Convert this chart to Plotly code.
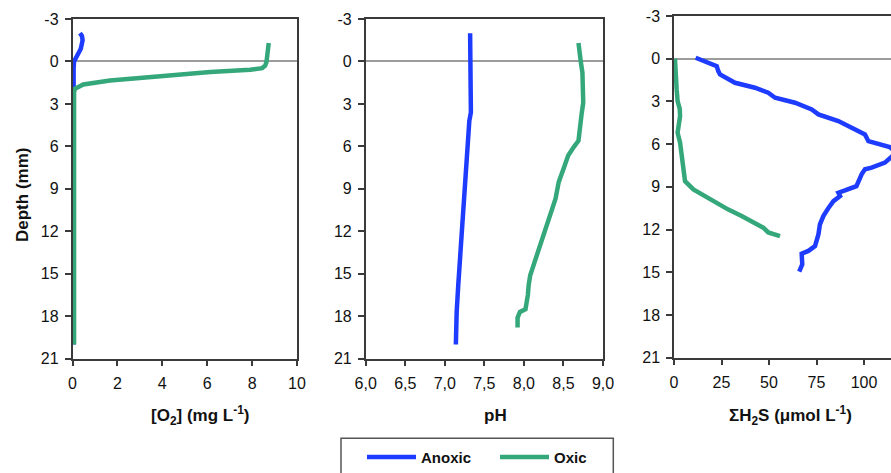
import plotly.graph_objects as go

# ---------------- data ----------------
o2_anoxic_depth = [-2.0, -1.8, -1.5, -1.2, -0.9, -0.6, -0.3, 0.0, 0.5, 1.0, 1.5, 2.0, 4, 6, 8, 10, 12, 14, 16, 18, 20]
o2_anoxic_val = [0.33, 0.42, 0.45, 0.43, 0.37, 0.27, 0.16, 0.07, 0.05, 0.05, 0.05, 0.05, 0.05, 0.05, 0.05, 0.05, 0.05, 0.05, 0.05, 0.05, 0.05]

o2_oxic_depth = [-1.3, -1.0, -0.66, -0.3, 0.05, 0.3, 0.47, 0.59, 0.75, 1.04, 1.34, 1.63, 1.93, 2.17, 3, 5, 8, 11, 14, 17, 20]
o2_oxic_val = [8.74, 8.72, 8.70, 8.67, 8.64, 8.58, 8.45, 7.92, 6.14, 3.91, 1.67, 0.48, 0.11, 0.07, 0.07, 0.07, 0.07, 0.07, 0.07, 0.07, 0.07]

ph_anoxic_depth = [-2.0, -1.0, 0.0, 1.0, 2.0, 3.0, 3.6, 4.2, 5.0, 6.0, 7.35, 8.5, 9.7, 11.1, 12.5, 14.2, 15.8, 17.7, 18.9, 20.0]
ph_anoxic_val = [7.32, 7.32, 7.33, 7.33, 7.33, 7.33, 7.33, 7.31, 7.30, 7.29, 7.27, 7.25, 7.24, 7.23, 7.21, 7.19, 7.17, 7.15, 7.14, 7.14]

ph_oxic_depth = [-1.3, -0.66, 0.05, 0.8, 1.7, 2.9, 3.7, 4.5, 5.6, 6.05, 6.64, 7.59, 8.53, 9.7, 10.9, 11.8, 13.0, 14.2, 15.1, 15.8, 16.5, 17.5, 17.7, 18.1, 18.8]
ph_oxic_val = [8.69, 8.71, 8.72, 8.74, 8.75, 8.75, 8.73, 8.71, 8.69, 8.63, 8.56, 8.50, 8.44, 8.40, 8.33, 8.28, 8.21, 8.14, 8.08, 8.06, 8.05, 8.02, 7.95, 7.92, 7.92]

h2s_anoxic_depth = [-0.07, 0.28, 0.52, 0.87, 1.1, 1.69, 2.04, 2.39, 2.74, 3.09, 3.56, 3.91, 4.38, 4.85, 5.32, 5.79, 6.2, 6.6, 7.0, 7.3, 7.65, 7.77, 8.1, 8.6, 8.95, 9.25, 9.41, 9.65, 10.0, 10.5, 11.05, 11.64, 12.34, 13.16, 13.5, 13.7, 14.45, 14.96]
h2s_anoxic_val = [11.4, 18.1, 22.5, 23.3, 24.2, 32.1, 42.6, 49.6, 53.2, 63.7, 72.5, 76.0, 86.5, 93.5, 100.5, 102.3, 113.5, 117.0, 114.0, 111.0, 104.0, 100.5, 98.8, 97.0, 96.0, 90.0, 86.5, 87.4, 83.9, 81.2, 78.6, 76.8, 76.0, 74.2, 70.7, 67.2, 67.5, 65.9]

h2s_oxic_depth = [0.0, 0.5, 1.22, 2.16, 2.98, 3.5, 4.03, 4.6, 5.2, 5.9, 6.84, 7.77, 8.12, 8.6, 9.18, 9.65, 10.1, 10.6, 11.05, 11.5, 11.87, 12.2, 12.46]
h2s_oxic_val = [0.5, 0.6, 0.9, 1.4, 1.9, 3.0, 3.2, 2.4, 1.9, 3.2, 4.0, 4.9, 4.9, 5.8, 10.2, 16.3, 21.6, 28.6, 35.6, 42.6, 47.0, 49.6, 55.8]

depth_ticks = [-3, 0, 3, 6, 9, 12, 15, 18, 21]
depth_tick_text = ["-3", "0", "3", "6", "9", "12", "15", "18", "21"]
series_names = ["Anoxic", "Oxic"]

# ---------------- style ----------------
W, H = 891, 473
BLUE = "#1e3cff"
GREEN = "#34a87a"
AX = "#3a3a3a"
FONT = "Liberation Sans, Arial, sans-serif"


def px(x):
    return x / W


def py(y):
    return 1 - y / H


fig = go.Figure()

panels = [
    (o2_anoxic_val, o2_anoxic_depth, o2_oxic_val, o2_oxic_depth),
    (ph_anoxic_val, ph_anoxic_depth, ph_oxic_val, ph_oxic_depth),
    (h2s_anoxic_val, h2s_anoxic_depth, h2s_oxic_val, h2s_oxic_depth),
]
for i, (ax_v, ax_d, ox_v, ox_d) in enumerate(panels):
    suffix = "" if i == 0 else str(i + 1)
    fig.add_trace(go.Scatter(x=ax_v, y=ax_d, mode="lines", name=series_names[0],
                             line=dict(color=BLUE, width=4.5), showlegend=(i == 0),
                             xaxis="x" + suffix, yaxis="y" + suffix))
    fig.add_trace(go.Scatter(x=ox_v, y=ox_d, mode="lines", name=series_names[1],
                             line=dict(color=GREEN, width=4.5), showlegend=(i == 0),
                             xaxis="x" + suffix, yaxis="y" + suffix))

common_x = dict(showgrid=False, zeroline=False, showline=True, linecolor=AX, linewidth=1.5,
                mirror=True, ticks="outside", ticklen=6, tickcolor=AX, tickwidth=1.5,
                ticklabelstandoff=3, automargin=False,
                tickfont=dict(family=FONT, size=16, color="#111"))
common_y = dict(showgrid=False, zeroline=True, zerolinecolor="#9c9c9c", zerolinewidth=2,
                showline=True, linecolor=AX, linewidth=1.5, ticks="outside", ticklen=6,
                tickcolor=AX, tickwidth=1.5, range=[21, -3], tickmode="array",
                tickvals=depth_ticks, ticktext=depth_tick_text,
                ticklabelstandoff=3, automargin=False,
                tickfont=dict(family=FONT, size=16, color="#111"))

yd12 = [py(358.7), py(19)]
yd3 = [py(357.7), py(16)]

fig.update_layout(
    width=W, height=H,
    margin=dict(l=0, r=0, t=0, b=0, autoexpand=False),
    paper_bgcolor="white", plot_bgcolor="white",
    separators=",.",
    xaxis=dict(common_x, domain=[px(72.5), px(297)], range=[0, 10], dtick=2, tick0=0, anchor="y"),
    yaxis=dict(common_y, domain=yd12, anchor="x", mirror=True),
    xaxis2=dict(common_x, domain=[px(365.7), px(603)], range=[6, 9], dtick=0.5, tick0=6,
                tickformat=".1f", anchor="y2"),
    yaxis2=dict(common_y, domain=yd12, anchor="x2", mirror=True),
    xaxis3=dict(common_x, domain=[px(674), 1.0], range=[0, 114.2], dtick=25, tick0=0, anchor="y3"),
    yaxis3=dict(common_y, domain=yd3, anchor="x3", mirror=False),
    showlegend=True,
    legend=dict(orientation="h", x=px(362), y=py(457.3), xanchor="left", yanchor="middle",
                borderwidth=0, bgcolor="rgba(0,0,0,0)",
                font=dict(family=FONT, size=15, color="#111", weight="bold"),
                itemwidth=49, entrywidth=69, entrywidthmode="pixels"),
)

# legend frame (extends below the visible page, as in the original)
fig.add_shape(type="rect", xref="paper", yref="paper",
              x0=px(341), x1=px(613.3), y0=py(438.3), y1=py(500),
              line=dict(color="#555", width=1.5), fillcolor="rgba(0,0,0,0)", layer="below")

title_font = dict(family=FONT, size=17, color="#111")
annotations = [
    dict(text="<b>Depth (mm)</b>", x=px(22), y=py(195), textangle=-90),
    dict(text="<b>[O<sub>2</sub>] (mg L<sup>-1</sup>)</b>", x=px(200), y=py(415)),
    dict(text="<b>pH</b>", x=px(495), y=py(415)),
    dict(text="<b>ΣH<sub>2</sub>S (μmol L<sup>-1</sup>)</b>", x=px(790), y=py(415)),
]
for a in annotations:
    fig.add_annotation(xref="paper", yref="paper", showarrow=False, font=title_font,
                       xanchor="center", yanchor="middle", **a)

fig.write_html("out.html", config={"displayModeBar": False},
               post_script="document.body.style.margin='0';document.body.style.overflow='hidden';")
